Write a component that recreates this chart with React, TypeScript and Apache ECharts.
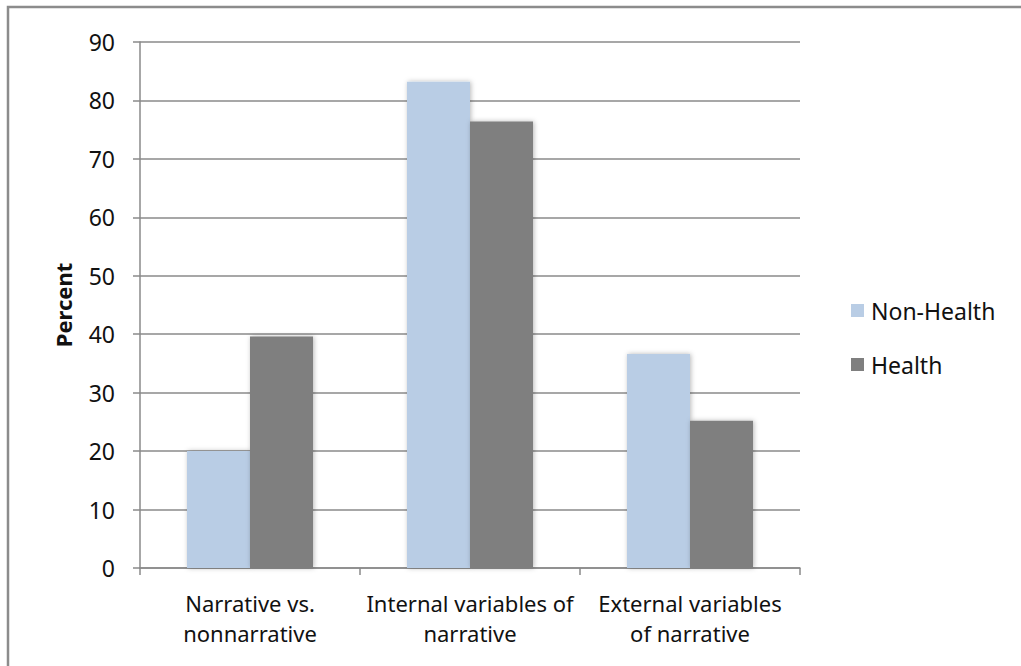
import React, { useEffect, useRef } from "react";
import * as echarts from "echarts";

const categories = [
  "Narrative vs.\nnonnarrative",
  "Internal variables of\nnarrative",
  "External variables\nof narrative",
];
const nonHealth = [20, 83.2, 36.6];
const health = [39.6, 76.4, 25.2];
const seriesNames = ["Non-Health", "Health"];
const yTicks = { min: 0, max: 90, interval: 10 };

const FONT = "'Noto Sans', sans-serif";
const LINE = "#8a8a8a";

export default function App() {
  const ref = useRef<HTMLDivElement>(null);

  useEffect(() => {
    if (!ref.current) return;
    const chart = echarts.init(ref.current, undefined, { renderer: "svg" });
    const shadow = {
      shadowBlur: 5,
      shadowColor: "rgba(0,0,0,0.28)",
      shadowOffsetX: 1,
      shadowOffsetY: 0,
    };
    chart.setOption({
      animation: false,
      backgroundColor: "#ffffff",
      textStyle: { fontFamily: FONT },
      graphic: [
        {
          type: "rect",
          shape: { x: 8, y: 7, width: 1040, height: 700 },
          style: { fill: "none", stroke: "#8c8c8c", lineWidth: 2.5 },
          silent: true,
        },
      ],
      grid: { left: 140, top: 42, width: 660, height: 526, containLabel: false },
      legend: {
        orient: "vertical",
        left: 846,
        top: 294,
        itemWidth: 13,
        itemHeight: 13,
        itemGap: 31,
        icon: "rect",
        data: seriesNames,
        textStyle: { fontFamily: FONT, fontSize: 23, color: "#111", padding: [0, 0, 0, 2] },
      },
      xAxis: {
        type: "category",
        data: categories,
        axisLine: { show: true, lineStyle: { color: LINE, width: 1.5 } },
        axisTick: { show: true, alignWithLabel: false, length: 7, lineStyle: { color: LINE, width: 1.5 } },
        axisLabel: {
          interval: 0,
          margin: 20,
          fontFamily: FONT,
          fontSize: 22,
          lineHeight: 30,
          color: "#111",
          align: "center",
        },
      },
      yAxis: {
        type: "value",
        min: yTicks.min,
        max: yTicks.max,
        interval: yTicks.interval,
        name: "Percent",
        nameLocation: "middle",
        nameRotate: 90,
        nameGap: 66,
        nameTextStyle: { fontFamily: FONT, fontSize: 22, fontWeight: "bold", color: "#111" },
        axisLine: { show: true, lineStyle: { color: LINE, width: 1.5 } },
        axisTick: { show: true, length: 7, lineStyle: { color: LINE, width: 1.5 } },
        axisLabel: { margin: 25, fontFamily: FONT, fontSize: 23, color: "#111" },
        splitLine: { show: true, lineStyle: { color: LINE, width: 1.5 } },
      },
      series: [
        {
          name: seriesNames[0],
          type: "bar",
          data: nonHealth,
          barWidth: 63,
          barGap: "0%",
          itemStyle: { color: "#b9cde5", ...shadow },
        },
        {
          name: seriesNames[1],
          type: "bar",
          data: health,
          barWidth: 63,
          barGap: "0%",
          itemStyle: { color: "#7f7f7f", ...shadow },
        },
      ],
    });
    return () => chart.dispose();
  }, []);

  return (
    <div
      ref={ref}
      style={{ position: "fixed", left: 0, top: 0, width: 1021, height: 666, background: "#fff" }}
    />
  );
}
